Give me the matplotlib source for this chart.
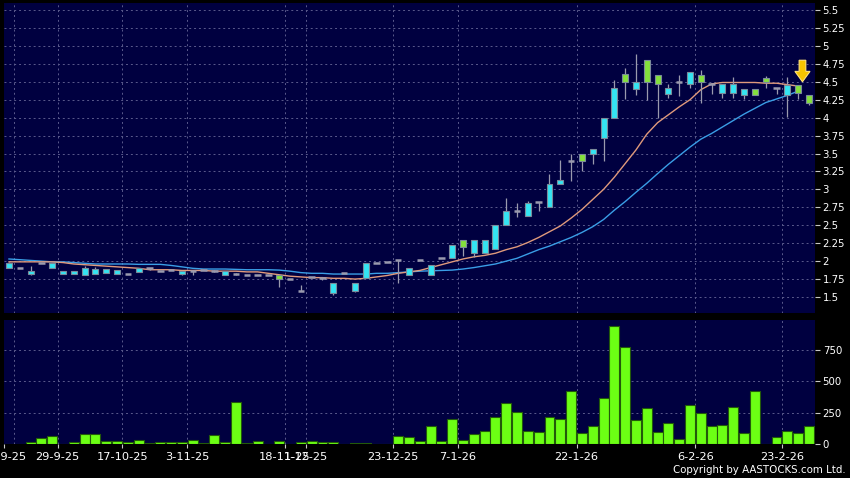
import numpy as np
import matplotlib
matplotlib.use("Agg")
import matplotlib.pyplot as plt
from matplotlib.patches import FancyArrow

# ---------- data ----------
date_labels = ["22-9-25", "29-9-25", "17-10-25", "3-11-25", "18-11-25", "1-12-25",
               "23-12-25", "7-1-26", "22-1-26", "6-2-26", "23-2-26"]
date_idx = [0, 4, 10, 16, 25, 27, 35, 41, 52, 63, 71]

opens = [1.90, 1.91, 1.82, 1.97, 1.91, 1.82, 1.82, 1.80, 1.82, 1.84,
         1.82, 1.82, 1.85, 1.91, 1.86, 1.87, 1.82, 1.86, 1.87, 1.86,
         1.80, 1.82, 1.80, 1.81, 1.80, 1.80, 1.75, 1.59, 1.78, 1.77,
         1.55, 1.84, 1.58, 1.76, 1.98, 1.99, 2.01, 1.80, 2.01, 1.80,
         2.05, 2.05, 2.30, 2.11, 2.12, 2.165, 2.51, 2.70, 2.625, 2.83,
         2.76, 3.07, 3.39, 3.50, 3.50, 3.71, 4.00, 4.61, 4.40, 4.81,
         4.60, 4.325, 4.49, 4.465, 4.60, 4.47, 4.35, 4.34, 4.31, 4.395,
         4.55, 4.41, 4.31, 4.455, 4.31]
closes = [1.98, 1.91, 1.86, 1.97, 1.98, 1.86, 1.86, 1.91, 1.89, 1.89,
          1.88, 1.82, 1.91, 1.91, 1.86, 1.87, 1.86, 1.86, 1.87, 1.86,
          1.86, 1.82, 1.80, 1.81, 1.80, 1.755, 1.75, 1.59, 1.78, 1.77,
          1.70, 1.84, 1.70, 1.98, 1.98, 1.99, 2.01, 1.91, 2.01, 1.94,
          2.05, 2.22, 2.19, 2.30, 2.30, 2.51, 2.70, 2.70, 2.81, 2.83,
          3.075, 3.13, 3.39, 3.40, 3.56, 4.00, 4.41, 4.50, 4.50, 4.50,
          4.465, 4.41, 4.49, 4.63, 4.50, 4.47, 4.465, 4.465, 4.395, 4.31,
          4.49, 4.41, 4.455, 4.35, 4.21]
highs = [1.99, 1.91, 1.93, 1.97, 1.98, 1.86, 1.86, 1.93, 1.92, 1.89,
         1.88, 1.82, 1.91, 1.91, 1.86, 1.87, 1.86, 1.86, 1.87, 1.87,
         1.86, 1.83, 1.80, 1.81, 1.80, 1.80, 1.75, 1.67, 1.78, 1.78,
         1.70, 1.84, 1.70, 1.98, 1.98, 1.99, 2.01, 1.91, 2.01, 1.94,
         2.05, 2.22, 2.30, 2.30, 2.30, 2.51, 2.88, 2.81, 2.84, 2.83,
         3.22, 3.41, 3.50, 3.50, 3.56, 4.00, 4.53, 4.69, 4.89, 4.81,
         4.60, 4.465, 4.60, 4.63, 4.66, 4.47, 4.465, 4.56, 4.395, 4.395,
         4.58, 4.41, 4.56, 4.455, 4.31]
lows = [1.90, 1.91, 1.81, 1.97, 1.91, 1.82, 1.82, 1.80, 1.82, 1.84,
        1.82, 1.82, 1.85, 1.88, 1.86, 1.87, 1.80, 1.80, 1.87, 1.85,
        1.80, 1.80, 1.80, 1.81, 1.80, 1.635, 1.75, 1.59, 1.78, 1.74,
        1.53, 1.84, 1.57, 1.76, 1.98, 1.99, 1.70, 1.80, 2.01, 1.80,
        2.05, 2.05, 2.07, 2.06, 2.12, 2.165, 2.51, 2.62, 2.625, 2.70,
        2.76, 3.07, 3.12, 3.26, 3.36, 3.40, 4.00, 4.255, 4.315, 4.25,
        4.00, 4.27, 4.30, 4.41, 4.21, 4.325, 4.28, 4.28, 4.255, 4.31,
        4.41, 4.325, 4.01, 4.255, 4.175]
volume = [0, 0, 19, 45, 61, 0, 19, 80, 80, 21,
          21, 19, 29, 8, 19, 19, 13, 29, 8, 74,
          13, 332, 8, 21, 0, 21, 0, 13, 24, 13,
          13, 0, 8, 8, 0, 0, 64, 56, 21, 144,
          25, 200, 28, 81, 102, 213, 325, 253, 104, 98,
          219, 200, 423, 85, 144, 364, 944, 771, 191, 285,
          93, 165, 37, 311, 245, 144, 149, 293, 88, 423,
          3, 53, 104, 85, 146]
ma_fast = [1.99, 1.99, 1.99, 1.99, 1.99, 1.98, 1.96, 1.95, 1.94, 1.93,
           1.92, 1.91, 1.90, 1.88, 1.88, 1.88, 1.87, 1.87, 1.87, 1.86,
           1.86, 1.86, 1.85, 1.85, 1.83, 1.81, 1.79, 1.78, 1.77, 1.77,
           1.76, 1.76, 1.75, 1.76, 1.78, 1.80, 1.83, 1.85, 1.87, 1.91,
           1.95, 1.99, 2.03, 2.06, 2.08, 2.11, 2.16, 2.20, 2.26, 2.33,
           2.41, 2.49, 2.60, 2.72, 2.86, 3.00, 3.17, 3.36, 3.55, 3.77,
           3.93, 4.04, 4.15, 4.25, 4.39, 4.47, 4.49, 4.49, 4.49, 4.49,
           4.48, 4.48, 4.46, 4.44]
ma_slow = [2.03, 2.02, 2.01, 2.00, 1.99, 1.99, 1.98, 1.97, 1.96, 1.96,
           1.96, 1.96, 1.955, 1.955, 1.955, 1.94, 1.92, 1.90, 1.89, 1.89,
           1.89, 1.885, 1.88, 1.88, 1.88, 1.875, 1.86, 1.84, 1.83, 1.83,
           1.82, 1.82, 1.82, 1.82, 1.83, 1.83, 1.84, 1.85, 1.86, 1.865,
           1.87, 1.875, 1.89, 1.91, 1.935, 1.96, 2.00, 2.04, 2.10, 2.16,
           2.21, 2.27, 2.33, 2.40, 2.48, 2.58, 2.71, 2.83, 2.96, 3.085,
           3.22, 3.35, 3.47, 3.59, 3.70, 3.78, 3.87, 3.96, 4.05, 4.13,
           4.21, 4.26, 4.31, 4.37]

# ---------- style ----------
BG = "#000040"
GRID = "#5a5a8c"
CYAN = "#34e4f2"
GREEN = "#84e03c"
GRAY = "#9a9aae"
VOLC = "#6cff14"

idx = np.arange(len(opens))
grid_pos = [i + 0.5 for i in date_idx]
lbl_pos = [-0.45] + grid_pos[1:]

fig = plt.figure(figsize=(8.5, 4.78), dpi=100, facecolor="black")
ax = fig.add_axes([4/850, 1 - 313/478, 811/850, 310/478], facecolor=BG)
axv = fig.add_axes([4/850, 1 - 444/478, 811/850, 124/478], facecolor=BG, sharex=ax)

for a in (ax, axv):
    for s in a.spines.values():
        s.set_visible(False)
    a.yaxis.tick_right()
    a.tick_params(axis="y", colors="#c8c8c8", labelcolor="white", length=3.5,
                  width=0.8, labelsize=7.3, pad=2)
    a.yaxis.grid(True, color=GRID, ls=(0, (2, 3)), lw=0.7)
    for g in grid_pos:
        a.axvline(g, color=GRID, ls=(0, (2, 3)), lw=0.7, zorder=0)
    a.set_axisbelow(True)

# ---------- price panel ----------
ax.set_xlim(-0.46, 74.56)
ax.set_ylim(1.277, 5.598)
yt = np.arange(1.5, 5.51, 0.25)
ax.set_yticks(yt)
ax.set_yticklabels([f"{v:g}" for v in yt])
ax.tick_params(axis="x", bottom=False, labelbottom=False)

ax.plot(idx[:len(ma_slow)], ma_slow, color="#3a9ee6", lw=1.0, zorder=2)
ax.plot(idx[:len(ma_fast)], ma_fast, color="#e09a7c", lw=1.0, zorder=2)

bw = 0.55
for i, o, c, h, l in zip(idx, opens, closes, highs, lows):
    ax.vlines(i, l, h, color=GRAY, lw=0.9, zorder=3)
    if abs(c - o) < 1e-6:
        ax.hlines(o, i - 0.3, i + 0.3, color=GRAY, lw=1.8, zorder=4)
    else:
        col = CYAN if c > o else GREEN
        ax.bar(i, abs(c - o), bottom=min(o, c), width=bw, color=col,
               edgecolor="#7a8a9a", lw=0.8, zorder=4)

# yellow marker arrow above the latest sessions
arr = FancyArrow(73.4, 4.80, 0, -0.30, width=0.62, head_width=1.4,
                 head_length=0.145, length_includes_head=True,
                 facecolor="#f6c400", edgecolor="#ffe27a", lw=0.8, zorder=6)
ax.add_patch(arr)

# ---------- volume panel ----------
axv.set_ylim(0, 989)
axv.set_yticks([0, 250, 500, 750])
axv.bar(idx, volume, width=0.92, color=VOLC, edgecolor="#235a0a", lw=0.8, zorder=3)
axv.set_xticks(lbl_pos)
axv.set_xticklabels(date_labels)
axv.tick_params(axis="x", colors="#c8c8c8", labelcolor="white", length=3,
                width=0.8, labelsize=8.2, pad=3)

fig.text(846/850, 1 - 470/478, "Copyright by AASTOCKS.com Ltd.", ha="right",
         va="center", color="white", fontsize=7.4)

plt.savefig("out.png", dpi=100, facecolor="black")
